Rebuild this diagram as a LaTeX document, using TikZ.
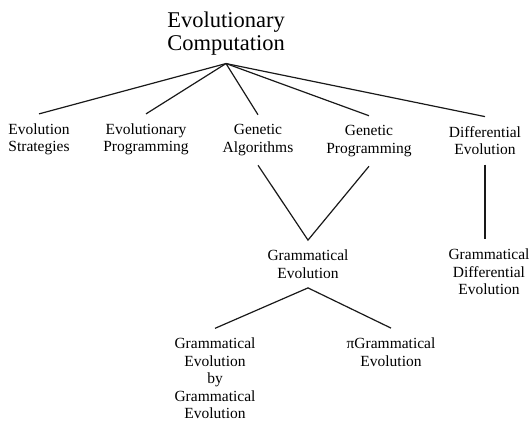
\documentclass[tikz,border=0pt]{standalone}
\usepackage{fontspec}
\setmainfont{Liberation Serif}
\usepackage{tikz}

\begin{document}
\begin{tikzpicture}[
  x=1pt, y=-1pt,
  branch/.style={align=center, inner xsep=2pt, inner ysep=9.5pt,
    font=\fontsize{15.5}{17.5}\selectfont},
  rootbox/.style={branch, inner ysep=8pt, font=\fontsize{22.5}{23.5}\selectfont},
  link/.style={line width=1.2pt, draw=black!90}
]
\useasboundingbox (0,0) rectangle (531,422);

% Root
\node[rootbox] (ec) at (226,33.4) {Evolutionary\\Computation};

% First level
\node[branch] (es) at (39,139.4) {Evolution\\Strategies};
\node[branch] (ep) at (146,139.4) {Evolutionary\\Programming};
\node[branch] (ga) at (258,140) {Genetic\\Algorithms};
\node[branch] (gp) at (369,141) {Genetic\\Programming};
\node[branch] (de) at (485,140.6) {Differential\\Evolution};

% Second level
\node[branch] (ge) at (308,264) {Grammatical\\Evolution};
\node[branch] (gde) at (489,272) {Grammatical\\Differential\\Evolution};

% Third level
\node[branch] (gebge) at (215,378.5) {Grammatical\\Evolution\\by\\Grammatical\\Evolution};
\node[branch] (pige) at (391,352) {πGrammatical\\Evolution};

% Links
\foreach \kid in {es,ep,ga,gp,de}
  \draw[link] (ec.south) -- (\kid.north);
\draw[link] (ga.south) -- (ge.north) -- (gp.south);
\draw[link] (de.south) -- (de.south |- gde.north);
\draw[link] (gebge.north) -- (ge.south) -- (pige.north);
\end{tikzpicture}
\end{document}
